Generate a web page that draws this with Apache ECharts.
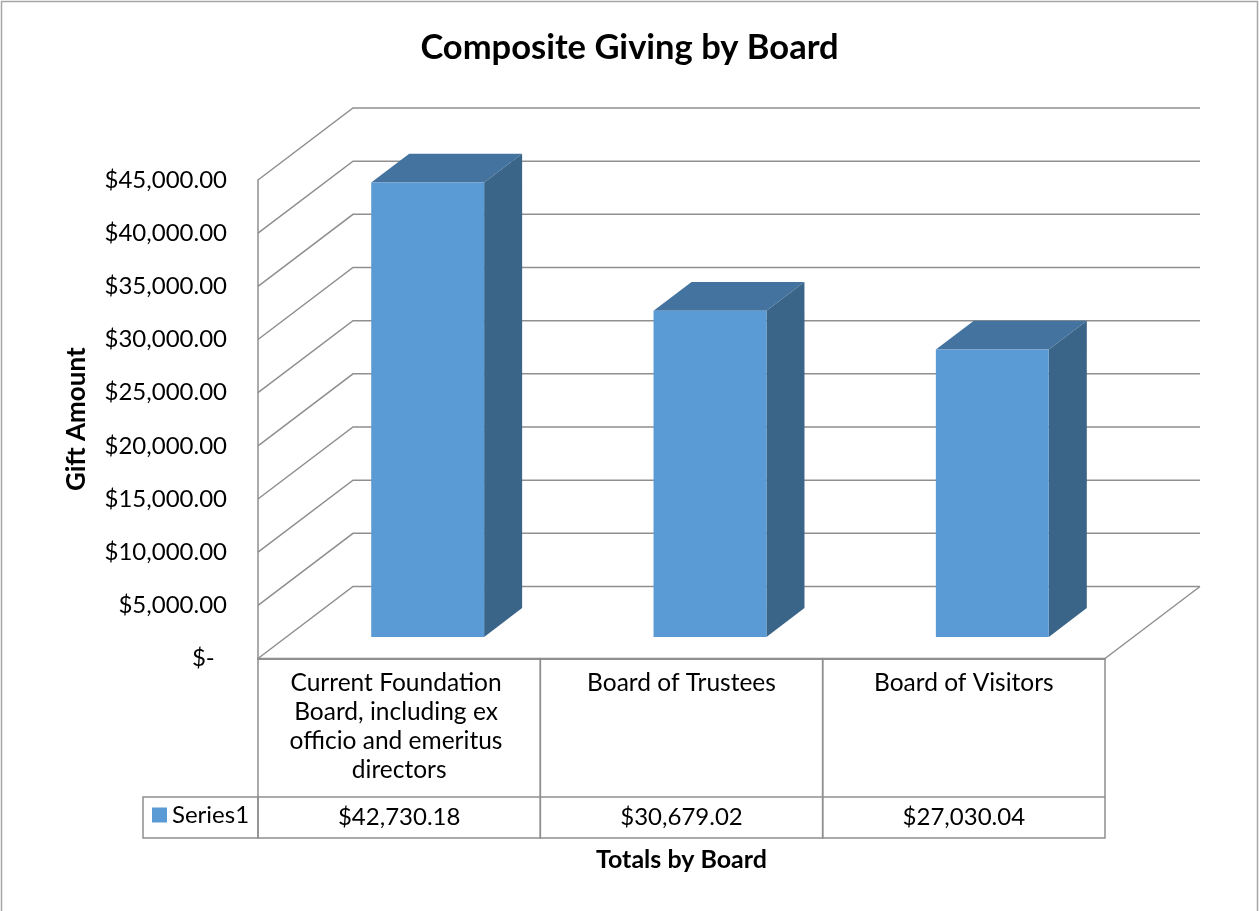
<!DOCTYPE html>
<html>
<head>
<meta charset="utf-8">
<title>Composite Giving by Board</title>
<script src="https://cdn.jsdelivr.net/npm/echarts@6/dist/echarts.min.js"></script>
<style>
  html, body { margin: 0; padding: 0; background: #fff; }
  #chart { width: 1259px; height: 911px; }
</style>
</head>
<body>
<div id="chart"></div>
<script>
// chart data
const categories = [
  'Current Foundation Board, including ex officio and emeritus directors',
  'Board of Trustees',
  'Board of Visitors'
]
const giftTotals = [42730.18, 30679.02, 27030.04]
const tickValues = [0, 5000, 10000, 15000, 20000, 25000, 30000, 35000, 40000, 45000]
const seriesName = 'Series1'

// fake 3d look: how far the back wall sits from the front edge
const DEPTH_X = 95
const DEPTH_Y = -72
const FONT = 'Lato, "Open Sans", sans-serif'
const LINE_COLOR = '#8f8f8f'

function money(v) {
  if (v === 0) return '$-  '
  return '$' + v.toLocaleString('en-US', { minimumFractionDigits: 2, maximumFractionDigits: 2 })
}

// left wall + back wall gridlines, and the floor
function renderWall(params, api) {
  const cs = params.coordSys
  const v = api.value(1)
  const y = api.coord([0, v])[1]
  const left = cs.x
  const right = cs.x + cs.width
  const line = { stroke: LINE_COLOR, lineWidth: 1.5, fill: null }
  const children = [{
    type: 'polyline',
    shape: { points: [[left, y], [left + DEPTH_X, y + DEPTH_Y], [right + DEPTH_X, y + DEPTH_Y]] },
    style: line
  }]
  if (v === 0) {
    children.push({
      type: 'line',
      shape: { x1: right, y1: y, x2: right + DEPTH_X, y2: y + DEPTH_Y },
      style: line
    })
  }
  return { type: 'group', children: children }
}

function renderBar(params, api) {
  const i = api.value(0)
  const base = api.coord([i, 0])
  const top = api.coord([i, api.value(1)])
  const band = api.size([1, 0])[0]
  const w = band * 0.4
  const x0 = base[0] - w / 2 + DEPTH_X * 0.3
  const x1 = x0 + w
  const yb = base[1] + DEPTH_Y * 0.3
  const yt = top[1] + DEPTH_Y * 0.3
  const dx = DEPTH_X * 0.4
  const dy = DEPTH_Y * 0.4
  return {
    type: 'group',
    children: [
      {
        type: 'polygon',
        shape: { points: [[x0, yt], [x0 + dx, yt + dy], [x1 + dx, yt + dy], [x1, yt]] },
        style: { fill: '#44739f' }
      },
      {
        type: 'polygon',
        shape: { points: [[x1, yt], [x1 + dx, yt + dy], [x1 + dx, yb + dy], [x1, yb]] },
        style: { fill: '#3a6488' }
      },
      {
        type: 'rect',
        shape: { x: x0, y: yt, width: w, height: yb - yt },
        style: { fill: api.visual('color') }
      }
    ]
  }
}

// data table under the floor
function renderTable(params, api) {
  const i = api.value(0)
  const cs = params.coordSys
  const band = api.size([1, 0])[0]
  const cx = api.coord([i, 0])[0]
  const left = cx - band / 2
  const top = cs.y + cs.height
  const nameBottom = top + 138.5
  const valueBottom = nameBottom + 41
  const line = { stroke: LINE_COLOR, lineWidth: 1.5, fill: null }
  const children = [
    { type: 'rect', shape: { x: left, y: top, width: band, height: valueBottom - top }, style: line },
    { type: 'line', shape: { x1: left, y1: nameBottom, x2: left + band, y2: nameBottom }, style: line },
    {
      type: 'text',
      style: {
        text: categories[i],
        x: cx,
        y: top + 10,
        width: band - 30,
        overflow: 'break',
        align: 'center',
        verticalAlign: 'top',
        lineHeight: 29,
        fontSize: 24.5,
        fontFamily: FONT,
        fill: '#000'
      }
    },
    {
      type: 'text',
      style: {
        text: money(api.value(1)),
        x: cx,
        y: (nameBottom + valueBottom) / 2,
        align: 'center',
        verticalAlign: 'middle',
        fontSize: 24,
        fontFamily: FONT,
        fill: '#000'
      }
    }
  ]
  if (i === 0) {
    // cell that holds the legend key
    children.push({
      type: 'rect',
      shape: { x: left - 115, y: nameBottom, width: 115, height: valueBottom - nameBottom },
      style: line
    })
  }
  return { type: 'group', children: children }
}

const chart = echarts.init(document.getElementById('chart'))

chart.setOption({
  animation: false,
  title: {
    text: 'Composite Giving by Board',
    left: 'center',
    top: 25,
    textStyle: { fontFamily: FONT, fontSize: 34.5, fontWeight: 'bold', color: '#000' }
  },
  legend: {
    data: [seriesName],
    left: 152,
    top: 803,
    padding: 0,
    icon: 'rect',
    itemWidth: 15,
    itemHeight: 15,
    textStyle: { fontFamily: FONT, fontSize: 24, color: '#000' }
  },
  graphic: [{
    type: 'rect',
    shape: { x: 1.5, y: 1.5, width: 1256, height: 930 },
    style: { stroke: '#a6a6a6', lineWidth: 1.5, fill: null },
    silent: true
  }],
  grid: {
    left: 258,
    right: 154,
    top: 180,
    bottom: 252.5
  },
  xAxis: {
    type: 'category',
    data: categories,
    name: 'Totals by Board',
    nameLocation: 'middle',
    nameGap: 189,
    nameTextStyle: { fontFamily: FONT, fontSize: 25, fontWeight: 'bold', color: '#000' },
    axisLine: { show: true, lineStyle: { color: LINE_COLOR, width: 2 } },
    axisTick: { show: false },
    axisLabel: { show: false },
    splitLine: { show: false }
  },
  yAxis: {
    type: 'value',
    min: 0,
    max: 45000,
    interval: 5000,
    name: 'Gift Amount',
    nameLocation: 'middle',
    nameRotate: 90,
    nameGap: 168,
    nameTextStyle: { fontFamily: FONT, fontSize: 26, fontWeight: 'bold', color: '#000' },
    axisLine: { show: true, lineStyle: { color: LINE_COLOR, width: 1.5 } },
    axisTick: { show: false },
    splitLine: { show: false },
    axisLabel: {
      margin: 31,
      fontFamily: FONT,
      fontSize: 24,
      color: '#000',
      formatter: money
    }
  },
  series: [
    {
      name: 'walls',
      type: 'custom',
      renderItem: renderWall,
      data: tickValues.map(v => [0, v]),
      silent: true,
      z: 1
    },
    {
      name: seriesName,
      type: 'custom',
      renderItem: renderBar,
      itemStyle: { color: '#5b9bd5' },
      data: giftTotals.map((v, i) => [i, v]),
      z: 2
    },
    {
      name: 'table',
      type: 'custom',
      renderItem: renderTable,
      data: giftTotals.map((v, i) => [i, v]),
      silent: true,
      z: 3
    }
  ]
})
</script>
</body>
</html>
